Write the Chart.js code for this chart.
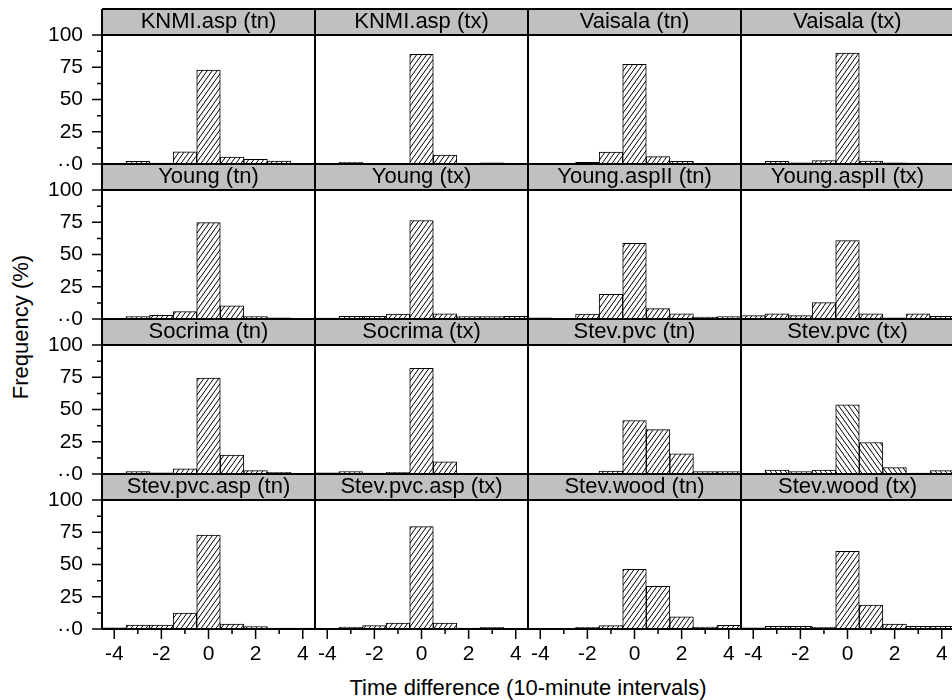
<!DOCTYPE html>
<html>
<head>
<meta charset="utf-8">
<script src="https://cdn.jsdelivr.net/npm/chart.js@4.4.1/dist/chart.umd.min.js"></script>
<style>
  html, body { margin: 0; padding: 0; background: #fff; overflow: hidden; }
  #wrap { position: relative; width: 952px; height: 700px; overflow: hidden;
          font-family: "Liberation Sans", Arial, Helvetica, sans-serif; color: #000; }
  #wrap canvas { position: absolute; }
  .ytitle { position: absolute; left: 21px; top: 327px; font-size: 22px; white-space: nowrap;
            transform: translate(-50%, -50%) rotate(-90deg); }
  .xtitle { position: absolute; left: 528px; top: 688px; font-size: 22px; white-space: nowrap;
            transform: translate(-50%, -50%); }
</style>
</head>
<body>
<div id="wrap">
  <div class="ytitle">Frequency (%)</div>
  <div class="xtitle">Time difference (10-minute intervals)</div>
</div>
<script>
// time offsets (10-minute intervals) and axis labels
const offsets = [-4, -3, -2, -1, 0, 1, 2, 3, 4];
const xTickLabels = [-4, -2, 0, 2, 4];
const yTickLabels = [0, 25, 50, 75, 100];
const yMinorTicks = [12.5, 37.5, 62.5, 87.5];

// frequency (%) per offset
const knmiAspTn    = [0.3, 2.0, 0.8, 9.5, 72.9, 5.4, 3.6, 2.3, 0.3];
const knmiAspTx    = [0.3, 1.3, 0.3, 0.5, 85.1, 7.0, 0.2, 1.0, 0.2];
const vaisalaTn    = [0.3, 0.3, 1.2, 9.3, 77.2, 5.7, 2.1, 0.5, 0.1];
const vaisalaTx    = [0.3, 2.0, 1.0, 2.6, 85.9, 2.3, 1.0, 0.8, 0.3];
const youngTn      = [0.2, 1.8, 2.8, 5.7, 74.7, 10.3, 1.8, 1.0, 0.5];
const youngTx      = [0.8, 2.1, 2.1, 3.9, 76.2, 4.1, 1.8, 1.8, 2.0];
const youngAspTn   = [1.0, 0.3, 3.9, 19.1, 58.6, 8.0, 4.1, 1.5, 1.8];
const youngAspTx   = [2.6, 4.1, 2.6, 12.7, 60.7, 4.1, 1.0, 4.1, 2.0];
const socrimaTn    = [0.3, 1.8, 1.0, 4.1, 74.3, 14.6, 2.6, 1.3, 0.3];
const socrimaTx    = [1.0, 1.8, 0.8, 1.3, 82.0, 9.5, 0.5, 0.5, 0.5];
const stevPvcTn    = [0.3, 0.3, 0.5, 2.3, 41.5, 34.4, 15.7, 1.8, 1.8];
const stevPvcTx    = [0.3, 3.1, 1.8, 3.1, 53.7, 24.4, 4.9, 0.8, 2.6];
const stevPvcAspTn = [1.0, 3.1, 3.1, 12.4, 72.9, 3.9, 1.8, 0.8, 0.8];
const stevPvcAspTx = [0.3, 1.5, 2.6, 4.6, 79.4, 4.6, 0.8, 1.3, 0.5];
const stevWoodTn   = [0.5, 0.5, 1.3, 2.6, 46.2, 33.0, 9.5, 1.5, 2.8];
const stevWoodTx   = [1.0, 2.0, 2.0, 1.3, 60.3, 18.5, 3.9, 2.0, 2.0];

const panelTitles = [
  "KNMI.asp (tn)", "KNMI.asp (tx)", "Vaisala (tn)", "Vaisala (tx)",
  "Young (tn)", "Young (tx)", "Young.aspII (tn)", "Young.aspII (tx)",
  "Socrima (tn)", "Socrima (tx)", "Stev.pvc (tn)", "Stev.pvc (tx)",
  "Stev.pvc.asp (tn)", "Stev.pvc.asp (tx)", "Stev.wood (tn)", "Stev.wood (tx)"
];
const panelSeries = [
  knmiAspTn, knmiAspTx, vaisalaTn, vaisalaTx,
  youngTn, youngTx, youngAspTn, youngAspTx,
  socrimaTn, socrimaTx, stevPvcTn, stevPvcTx,
  stevPvcAspTn, stevPvcAspTx, stevWoodTn, stevWoodTx
];
// this one is hatched the other way in the original
const backslashPanels = ["Stev.pvc (tx)"];

// lattice geometry
const GRID_LEFT = 102, GRID_TOP = 9;
const PANEL_W = 213, ROW_H = 155, STRIP_H = 26;
const PAD_L = 100, PAD_B = 60;
const FONT = "'Liberation Sans', Arial, Helvetica, sans-serif";

function makeHatch(ctx, flip) {
  const w = 5, h = 7;
  const c = document.createElement("canvas");
  c.width = w; c.height = h;
  const g = c.getContext("2d");
  g.fillStyle = "#fff";
  g.fillRect(0, 0, w, h);
  g.strokeStyle = "#000";
  g.lineWidth = 1;
  g.beginPath();
  for (let k = -1; k <= 1; k++) {
    const x0 = k * w;
    if (!flip) { g.moveTo(x0 - 0.4 * w, h * 1.4); g.lineTo(x0 + 1.4 * w, -0.4 * h); }
    else       { g.moveTo(x0 - 0.4 * w, -0.4 * h); g.lineTo(x0 + 1.4 * w, h * 1.4); }
  }
  g.stroke();
  return ctx.createPattern(c, "repeat");
}

// gray strip behind the panel title
const stripPlugin = {
  id: "strip",
  beforeDraw(chart) {
    const { ctx, chartArea: a } = chart;
    ctx.save();
    ctx.fillStyle = "#c0c0c0";
    ctx.fillRect(a.left, a.top - STRIP_H, a.right - a.left, STRIP_H);
    ctx.restore();
  }
};

// panel frame + outside tick marks (major/minor)
const framePlugin = {
  id: "frame",
  afterDraw(chart, args, opts) {
    const { ctx, chartArea: a, scales } = chart;
    ctx.save();
    ctx.strokeStyle = "#000";
    ctx.lineWidth = 2;
    ctx.beginPath();
    ctx.moveTo(a.left, a.top - STRIP_H); ctx.lineTo(a.right, a.top - STRIP_H);
    ctx.moveTo(a.left, a.top); ctx.lineTo(a.right, a.top);
    ctx.moveTo(a.left, a.bottom); ctx.lineTo(a.right, a.bottom);
    // only the left edge: the next panel draws the shared one
    ctx.moveTo(a.left, a.top - STRIP_H); ctx.lineTo(a.left, a.bottom);
    ctx.stroke();

    ctx.lineWidth = 1.5;
    ctx.beginPath();
    if (opts.leftTicks) {
      for (const v of yTickLabels) {
        const y = scales.y.getPixelForValue(v);
        ctx.moveTo(a.left - 10, y); ctx.lineTo(a.left, y);
      }
      for (const v of yMinorTicks) {
        const y = scales.y.getPixelForValue(v);
        ctx.moveTo(a.left - 5, y); ctx.lineTo(a.left, y);
      }
    }
    if (opts.bottomTicks) {
      for (const v of offsets) {
        const x = scales.x.getPixelForValue(v);
        ctx.moveTo(x, a.bottom); ctx.lineTo(x, a.bottom + (v % 2 === 0 ? 10 : 5));
      }
    }
    ctx.stroke();
    ctx.restore();
  }
};

const wrap = document.getElementById("wrap");

panelTitles.forEach((title, i) => {
  const row = Math.floor(i / 4), col = i % 4;
  const isLeft = col === 0, isBottom = row === 3;

  const canvas = document.createElement("canvas");
  canvas.width = PAD_L + PANEL_W;
  canvas.height = 1 + STRIP_H + (ROW_H - STRIP_H) + PAD_B;
  canvas.style.left = (GRID_LEFT + col * PANEL_W - PAD_L) + "px";
  canvas.style.top = (GRID_TOP + row * ROW_H - 1) + "px";
  wrap.appendChild(canvas);
  const ctx = canvas.getContext("2d");

  const values = panelSeries[i];
  const hatch = makeHatch(ctx, backslashPanels.includes(title));

  new Chart(ctx, {
    type: "bar",
    data: {
      datasets: [{
        data: offsets.map((x, k) => ({ x, y: values[k] })),
        backgroundColor: hatch,
        borderColor: "#000",
        borderWidth: 1,
        borderSkipped: false,
        barPercentage: 1,
        categoryPercentage: 1
      }]
    },
    options: {
      responsive: false,
      animation: false,
      devicePixelRatio: 1,
      events: [],
      layout: { padding: 0 },
      plugins: {
        legend: { display: false },
        tooltip: { enabled: false },
        title: {
          display: true,
          text: title,
          fullSize: false,
          color: "#000",
          padding: { top: 1, bottom: 0 },
          font: { family: FONT, size: 22, weight: "normal", lineHeight: STRIP_H + "px" }
        },
        frame: { leftTicks: isLeft, bottomTicks: isBottom }
      },
      scales: {
        x: {
          type: "linear",
          offset: false,
          min: -4.52,
          max: 4.52,
          grid: { display: false, drawTicks: false, offset: false },
          border: { display: false },
          ticks: {
            padding: 13, color: "#000", maxRotation: 0, autoSkip: false,
            font: { family: FONT, size: 21 },
            callback: v => (isBottom ? String(v) : "")
          },
          afterBuildTicks: s => { s.ticks = xTickLabels.map(v => ({ value: v })); },
          afterFit: s => { s.height = PAD_B; s.paddingLeft = 0; s.paddingRight = 0; }
        },
        y: {
          min: 0,
          max: 100,
          grid: { display: false, drawTicks: false },
          border: { display: false },
          ticks: {
            padding: 19, color: "#000",
            font: { family: FONT, size: 21 },
            callback: v => (!isLeft ? "" : v === 0 ? "··0" : String(v))
          },
          afterBuildTicks: s => { s.ticks = yTickLabels.map(v => ({ value: v })); },
          afterFit: s => { s.width = PAD_L; s.paddingTop = 0; s.paddingBottom = 0; }
        }
      }
    },
    plugins: [stripPlugin, framePlugin]
  });
});
</script>
</body>
</html>
